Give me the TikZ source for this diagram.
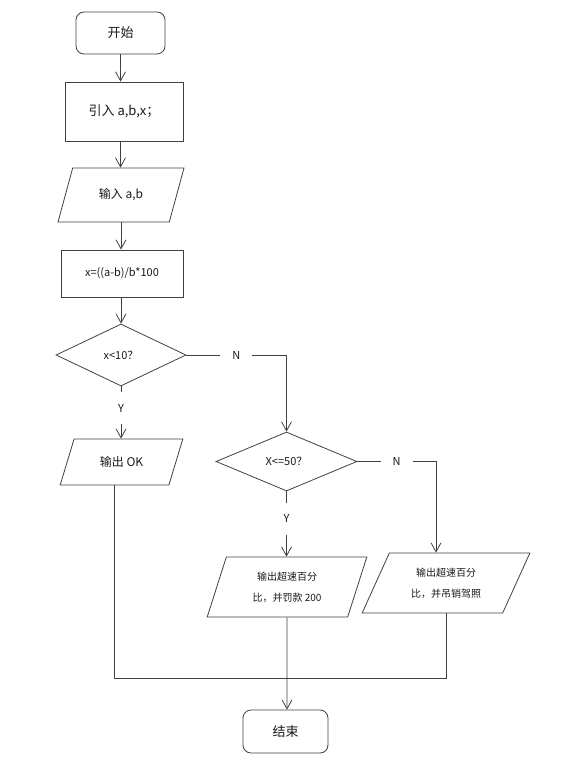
\documentclass[tikz,border=0pt]{standalone}
\usepackage{fontspec}
\setmainfont{Noto Sans CJK SC}
\usetikzlibrary{shapes.geometric,arrows.meta}

\begin{document}
\begin{tikzpicture}[x=1pt,y=-1pt]
            \tikzstyle{every node}=[font=\fontsize{11}{13}\selectfont, text=black!90]
            \tikzstyle{link}=[draw=black!75, line width=0.8pt]
            \tikzstyle{arr}=[link, -{Straight Barb[length=9pt,width=10pt]}]
            \tikzstyle{term}=[link, rectangle, rounded corners=8pt, font=\fontsize{13}{15}\selectfont]
            \tikzstyle{proc}=[link, rectangle]
            \tikzstyle{io}=[link, trapezium, trapezium stretches=true, inner sep=1pt]
            \tikzstyle{test}=[link, diamond, inner sep=0pt]
            \tikzstyle{yes}=[fill=white, inner xsep=2pt, inner ysep=12pt]
            \tikzstyle{no}=[fill=white, inner xsep=12pt, inner ysep=2pt]
            \useasboundingbox (0,0) rectangle (585,759);
            \node [term, minimum width=89, minimum height=42] (start) at (120.5,33) {开始};
            \node [proc, minimum width=118, minimum height=59, font=\fontsize{13}{15}\selectfont] (load) at (124,111.5) {引入 a,b,x；};
            \node [io, trapezium left angle=64, trapezium right angle=116, minimum width=126, minimum height=54, font=\fontsize{12}{14}\selectfont] (input) at (121,195) {输入 a,b};
            \node [proc, minimum width=122, minimum height=47] (calc) at (122,273.5) {x=((a-b)/b*100};
            \node [test, minimum width=130, minimum height=62] (lt10) at (121,355) {x<10？};
            \node [io, trapezium left angle=63, trapezium right angle=117, minimum width=123, minimum height=46, font=\fontsize{12}{14}\selectfont] (ok) at (121.5,462) {输出 OK};
            \node [test, minimum width=141, minimum height=59] (le50) at (286.5,461.5) {X<=50？};
            \node [io, trapezium left angle=71, trapezium right angle=109, minimum width=160, minimum height=60, align=center, font=\fontsize{10}{12}\selectfont] (fine) at (287,587) {输出超速百分\\[9pt]比，并罚款 200};
            \node [io, trapezium left angle=62, trapezium right angle=118, minimum width=168, minimum height=60, align=center, font=\fontsize{10}{12}\selectfont] (revoke) at (446,583) {输出超速百分\\[9pt]比，并吊销驾照};
            \node [term, minimum width=85, minimum height=43] (stop) at (285.5,731.5) {结束};
            \coordinate (join) at (287,678);
            \draw [arr] (start.south) -- (start.south |- load.north);
            \draw [arr] (load.south -| start.south) -- (start.south |- input.north);
            \draw [arr] (input.south) -- (input.south |- calc.north);
            \draw [arr] (calc.south -| input.south) -- (input.south |- lt10.north);
            \draw [arr] (lt10.south) -- node [yes, pos=0.42] {Y} (lt10.south |- ok.north);
            \draw [arr] (lt10.east) -| node [no, pos=0.25] {N} (le50.north);
            \draw [arr] (le50.south) -- node [yes, pos=0.42] {Y} (le50.south |- fine.north);
            \draw [arr] (le50.east) -| node [no, pos=0.25] {N} ([xshift=-10]revoke.north);
            \draw [link] (ok.bottom side) |- (join);
            \draw [link] (revoke.south) |- (join);
            \draw [arr] (fine.south) -- (join) -- (join |- stop.north);
            \end{tikzpicture}
\end{document}
